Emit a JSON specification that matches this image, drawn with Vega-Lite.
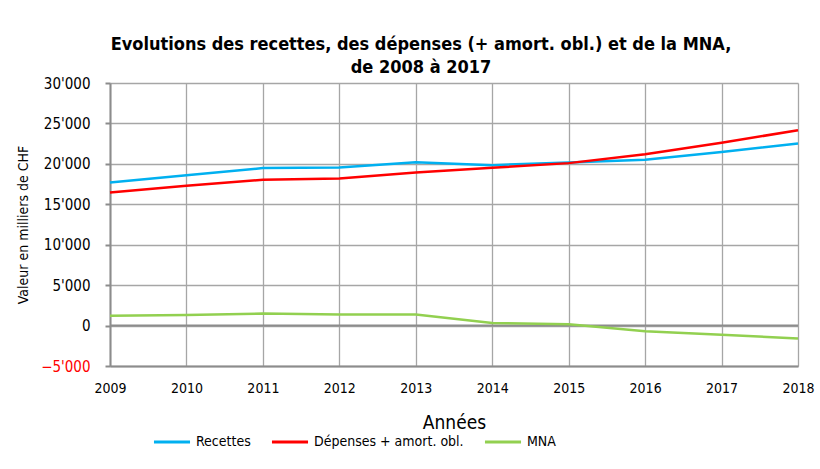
{
  "$schema": "https://vega.github.io/schema/vega-lite/v6.json",
  "width": 688,
  "height": 283,
  "autosize": {"type": "none"},
  "padding": {"left": 110, "top": 83, "right": 22, "bottom": 103},
  "background": "white",
  "config": {
    "font": "DejaVu Sans Condensed, Liberation Sans, sans-serif",
    "locale": {"number": {"decimal": ".", "thousands": "'", "grouping": [3], "currency": ["", ""]}},
    "view": {"stroke": null}
  },
  "title": {
    "text": ["Evolutions des recettes, des dépenses (+ amort. obl.) et de la MNA,", "de 2008 à 2017"],
    "font": "DejaVu Sans Condensed, Liberation Sans, sans-serif",
    "fontSize": 18,
    "fontWeight": "bold",
    "color": "black",
    "anchor": "middle",
    "dx": -33,
    "offset": -1,
    "lineHeight": 23
  },
  "data": {
    "values": [
      {"annee": 2009, "serie": "Recettes", "valeur": 17700},
      {"annee": 2010, "serie": "Recettes", "valeur": 18600},
      {"annee": 2011, "serie": "Recettes", "valeur": 19480},
      {"annee": 2012, "serie": "Recettes", "valeur": 19550},
      {"annee": 2013, "serie": "Recettes", "valeur": 20200},
      {"annee": 2014, "serie": "Recettes", "valeur": 19840},
      {"annee": 2015, "serie": "Recettes", "valeur": 20170},
      {"annee": 2016, "serie": "Recettes", "valeur": 20500},
      {"annee": 2017, "serie": "Recettes", "valeur": 21480},
      {"annee": 2018, "serie": "Recettes", "valeur": 22520},
      {"annee": 2009, "serie": "Dépenses + amort. obl.", "valeur": 16470},
      {"annee": 2010, "serie": "Dépenses + amort. obl.", "valeur": 17290},
      {"annee": 2011, "serie": "Dépenses + amort. obl.", "valeur": 18030},
      {"annee": 2012, "serie": "Dépenses + amort. obl.", "valeur": 18200},
      {"annee": 2013, "serie": "Dépenses + amort. obl.", "valeur": 18940},
      {"annee": 2014, "serie": "Dépenses + amort. obl.", "valeur": 19510},
      {"annee": 2015, "serie": "Dépenses + amort. obl.", "valeur": 20090},
      {"annee": 2016, "serie": "Dépenses + amort. obl.", "valeur": 21200},
      {"annee": 2017, "serie": "Dépenses + amort. obl.", "valeur": 22620},
      {"annee": 2018, "serie": "Dépenses + amort. obl.", "valeur": 24150},
      {"annee": 2009, "serie": "MNA", "valeur": 1230},
      {"annee": 2010, "serie": "MNA", "valeur": 1310},
      {"annee": 2011, "serie": "MNA", "valeur": 1480},
      {"annee": 2012, "serie": "MNA", "valeur": 1380},
      {"annee": 2013, "serie": "MNA", "valeur": 1380},
      {"annee": 2014, "serie": "MNA", "valeur": 330},
      {"annee": 2015, "serie": "MNA", "valeur": 150},
      {"annee": 2016, "serie": "MNA", "valeur": -700},
      {"annee": 2017, "serie": "MNA", "valeur": -1130},
      {"annee": 2018, "serie": "MNA", "valeur": -1600}
    ]
  },
  "layer": [
    {
      "data": {"values": [{"zero": 0}]},
      "mark": {"type": "rule", "color": "#8c8c8c", "strokeWidth": 2},
      "encoding": {"y": {"field": "zero", "type": "quantitative", "scale": {"domain": [-5000, 30000]}}}
    },
    {
      "mark": {"type": "line", "strokeWidth": 2.5},
      "encoding": {
        "x": {
          "field": "annee",
          "type": "quantitative",
          "scale": {"domain": [2009, 2018], "nice": false, "zero": false},
          "axis": {
            "values": [2009, 2010, 2011, 2012, 2013, 2014, 2015, 2016, 2017, 2018],
            "format": "d",
            "title": "Années",
            "titleFont": "DejaVu Sans Condensed, Liberation Sans, sans-serif",
            "titleFontSize": 19,
            "titleFontWeight": "normal",
            "titleColor": "black",
            "titlePadding": 18,
            "labelFontSize": 14,
            "labelColor": "black",
            "labelPadding": 15,
            "ticks": false,
            "grid": true,
            "gridColor": "#a6a6a6",
            "gridWidth": 1.3,
            "domainColor": "#8c8c8c",
            "domainWidth": 2,
            "labelFlush": false
          }
        },
        "y": {
          "field": "valeur",
          "type": "quantitative",
          "scale": {"domain": [-5000, 30000], "nice": false},
          "axis": {
            "values": [-5000, 0, 5000, 10000, 15000, 20000, 25000, 30000],
            "format": ",d",
            "title": "Valeur en milliers de CHF",
            "titleFont": "DejaVu Sans Condensed, Liberation Sans, sans-serif",
            "titleFontSize": 14,
            "titleFontWeight": "normal",
            "titleColor": "black",
            "titlePadding": 10,
            "labelFontSize": 15,
            "labelColor": {"condition": {"test": "datum.value < 0", "value": "#ff0000"}, "value": "black"},
            "labelPadding": 15,
            "tickSize": 5,
            "tickColor": "#8c8c8c",
            "tickWidth": 2,
            "grid": true,
            "gridColor": "#a6a6a6",
            "gridWidth": 1.3,
            "domainColor": "#8c8c8c",
            "domainWidth": 2
          }
        },
        "color": {
          "field": "serie",
          "type": "nominal",
          "scale": {
            "domain": ["Recettes", "Dépenses + amort. obl.", "MNA"],
            "range": ["#00b0f0", "#ff0000", "#92d050"]
          },
          "legend": {
            "title": null,
            "orient": "none",
            "direction": "horizontal",
            "legendX": 42,
            "legendY": 339,
            "symbolType": "stroke",
            "symbolSize": 1300,
            "symbolStrokeWidth": 3,
            "labelFontSize": 14,
            "labelColor": "black",
            "labelFont": "DejaVu Sans Condensed, Liberation Sans, sans-serif",
            "columnPadding": 14,
            "labelOffset": 4
          }
        }
      }
    }
  ]
}
